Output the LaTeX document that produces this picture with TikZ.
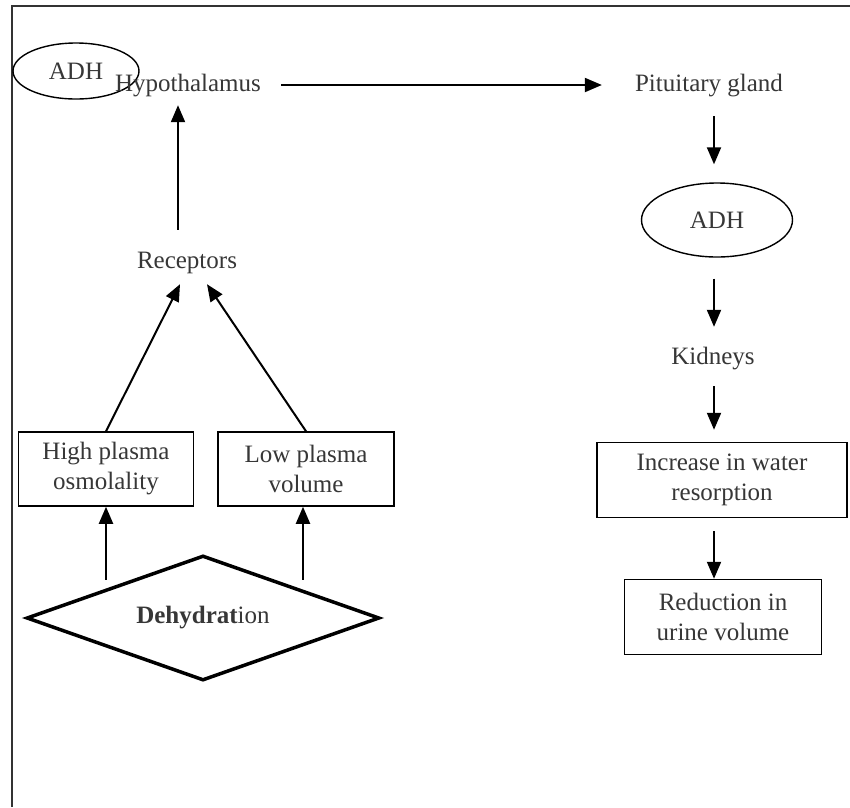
\documentclass[tikz,border=0pt]{standalone}
\usepackage{fontspec}
\setmainfont{Liberation Serif}
\usetikzlibrary{arrows.meta,shapes.geometric}
\definecolor{txt}{RGB}{55,55,55}
\begin{document}
\begin{tikzpicture}[x=1pt,y=-1pt,
  every node/.style={font=\fontsize{25}{30}\selectfont, text=txt},
  lbl/.style={inner sep=0pt, text height=17pt, text depth=5pt},
  boxnode/.style={draw=black, line width=1.5pt, rectangle, align=center, inner sep=0pt},
  ellnode/.style={draw=black, line width=1.4pt, ellipse, inner sep=0pt},
  arr/.style={-{Triangle[length=17pt,width=14pt]}, line width=2pt, black}]
\useasboundingbox (0,0) rectangle (850,807);
\fill[white] (0,0) rectangle (850,807);
% frame
\draw[line width=1.5pt, black!80] (12,807) -- (12,6) -- (850,6);

\node[ellnode, minimum width=126pt, minimum height=56pt] (adh1) at (76,71) {ADH};
\node[lbl] (hyp) at (188,85) {Hypothalamus};
\node[lbl] (pit) at (709,85) {Pituitary gland};
\node[ellnode, minimum width=151pt, minimum height=74pt] (adh2) at (717,220) {ADH};
\node[lbl] (kid) at (713,358) {Kidneys};
\node[boxnode, minimum width=250pt, minimum height=75pt] (inc) at (722,480) {Increase in water\\resorption};
\node[boxnode, minimum width=197pt, minimum height=75pt] (red) at (723,617) {Reduction in\\urine volume};
\node[lbl] (rec) at (187,262) {Receptors};
\node[boxnode, minimum width=175pt, minimum height=74pt] (hpo) at (106,469) {High plasma\\osmolality};
\node[boxnode, minimum width=176pt, minimum height=74pt] (lpv) at (306,469) {Low plasma\\volume};
\node[diamond, aspect=2.8, draw=black, line width=3.5pt, minimum width=353pt, minimum height=125pt, inner sep=0pt] (dia) at (203,618) {\textbf{Dehydrat}ion};

% connectors
\draw[arr, shorten <=20pt, shorten >=33pt] (hyp.east) -- (pit.west);
\draw[arr, shorten <=20pt, shorten >=18pt] ([xshift=5pt]pit.south) -- ([xshift=-3pt]adh2.north);
\draw[arr, shorten <=21pt, shorten >=20pt] ([xshift=-3pt]adh2.south) -- ([xshift=1pt]kid.north);
\draw[arr, shorten <=17pt, shorten >=12pt] ([xshift=1pt]kid.south) -- ([xshift=-8pt]inc.north);
\draw[arr, shorten <=13pt] ([xshift=-8pt]inc.south) -- ([xshift=-9pt]red.north);
\draw[arr, shorten <=21pt, shorten >=9pt] ([xshift=-9pt]rec.north) -- ([xshift=-10pt]hyp.south);
\draw[arr] (hpo.north) -- ([xshift=-7pt,yshift=-11pt]rec.south);
\draw[arr] (lpv.north) -- ([xshift=20pt,yshift=-11pt]rec.south);
\draw[arr, shorten <=6pt] (dia.north west -| hpo.south) -- (hpo.south);
\draw[arr, shorten <=6pt] ([xshift=-3pt]dia.north east -| lpv.south) -- ([xshift=-3pt]lpv.south);
\end{tikzpicture}
\end{document}
